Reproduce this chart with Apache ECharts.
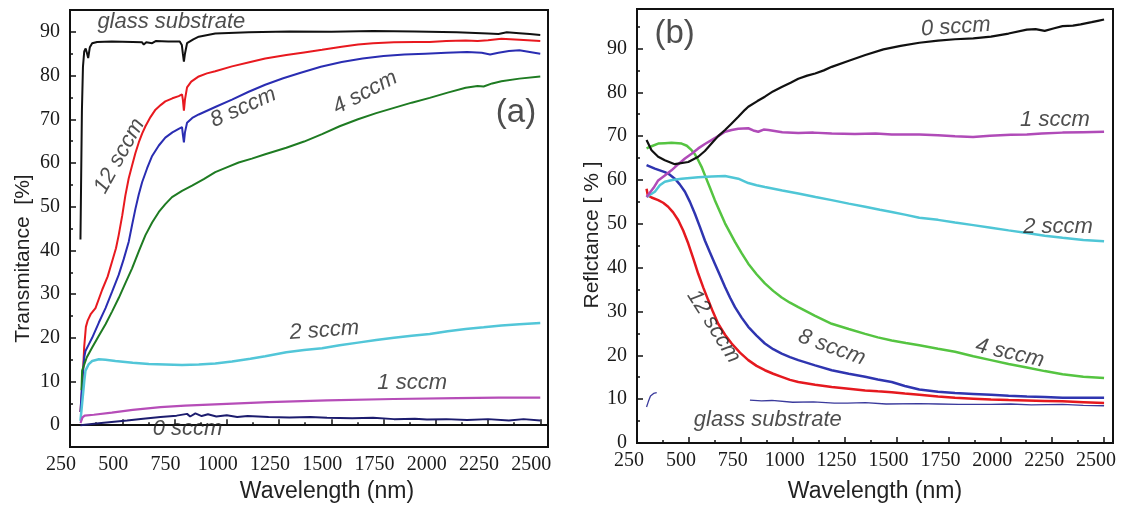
<!DOCTYPE html>
<html><head><meta charset="utf-8">
<script src="https://cdn.jsdelivr.net/npm/echarts@6/dist/echarts.min.js"></script>
<style>html,body{margin:0;padding:0;background:#fff}#c{width:1122px;height:508px}</style>
</head><body><div id="c"></div>
<script>
// ---------- Panel (a): Transmittance [%] vs wavelength (nm) ----------
const glassA = [[300,42.5],[303,55],[307,72],[312,82],[318,85.5],[325,86.2],[332,85],[337,84],[345,86.5],[356,87.4],[380,87.7],[450,87.8],[550,87.7],[595,87.6],[603,87.1],[615,87.6],[643,87.4],[660,87.9],[720,87.8],[775,87.8],[785,87],[790,85],[795,83.2],[800,85],[810,87.4],[840,88.3],[866,88.9],[945,89.6],[1105,89.9],[1300,90.1],[1500,90],[1700,90.2],[1900,90.1],[2100,89.9],[2250,89.6],[2300,89.5],[2340,89.9],[2400,89.7],[2450,89.5],[2500,89.3]];
const sccm12A = [[300,3],[310,10],[318,18],[326,22.5],[335,24],[350,25.5],[372,26.8],[404,31],[430,34],[451,37.4],[470,40.5],[483,43.5],[500,48],[515,52.6],[531,56.5],[547,59.4],[563,62.3],[579,64.7],[595,66.7],[611,68.4],[635,70.5],[659,72.2],[685,73.3],[706,74.1],[740,74.8],[770,75.3],[786,75.7],[790,74.5],[795,72],[800,74.5],[810,77.3],[830,78.6],[866,79.8],[905,80.5],[945,81],[1025,82.1],[1113,83.1],[1184,83.9],[1285,84.7],[1370,85.3],[1456,85.9],[1550,86.6],[1628,87.1],[1700,87.4],[1800,87.6],[1900,87.7],[1971,87.7],[2050,87.9],[2143,88],[2200,87.9],[2250,88.1],[2314,88.4],[2400,88.2],[2500,87.9]];
const sccm8A = [[300,3],[310,11],[318,15.5],[324,17],[340,18.5],[356,20],[388,23.5],[420,26.8],[451,30.5],[483,34.4],[507,38],[531,42],[547,45.8],[563,49.5],[579,52.8],[595,55.6],[619,58.8],[643,61.6],[675,64],[706,65.8],[740,67],[770,67.8],[786,68.2],[790,66.5],[795,64.7],[800,67],[810,69.2],[835,70.3],[866,71.1],[945,72.8],[1025,74.5],[1105,76.3],[1184,77.9],[1270,79.4],[1350,80.6],[1450,82],[1550,83.1],[1650,83.9],[1750,84.5],[1850,84.8],[1950,85],[2050,85.2],[2150,85.4],[2220,85.2],[2260,84.8],[2300,85.2],[2350,85.6],[2400,85.8],[2450,85.4],[2500,85]];
const sccm4A = [[305,8],[308,12.5],[330,15.5],[356,17.8],[388,20.5],[420,23.1],[451,26],[483,29.1],[515,32.5],[547,35.9],[579,39.8],[611,43.5],[643,46.4],[675,48.8],[706,50.6],[738,52.2],[786,53.6],[834,54.8],[890,56.3],[945,57.9],[1000,59],[1057,60.1],[1120,61],[1184,62],[1285,63.5],[1370,64.9],[1456,66.6],[1540,68.4],[1628,70],[1715,71.4],[1800,72.6],[1885,73.8],[1971,74.9],[2057,76.1],[2143,77.2],[2200,77.6],[2229,77.5],[2270,78.2],[2314,78.7],[2400,79.3],[2500,79.8]];
const sccm2A = [[300,1],[310,6],[318,10],[324,12.5],[340,14],[356,14.7],[388,15.1],[420,15],[467,14.7],[550,14.3],[627,14],[706,13.9],[786,13.8],[866,13.9],[945,14.1],[1025,14.6],[1113,15.2],[1184,15.8],[1285,16.7],[1370,17.2],[1456,17.6],[1540,18.3],[1628,18.9],[1715,19.5],[1800,20],[1885,20.5],[1971,20.9],[2057,21.5],[2143,22],[2229,22.4],[2314,22.8],[2400,23.1],[2500,23.4]];
const sccm1A = [[300,0.5],[310,1.8],[320,2.2],[364,2.4],[450,2.9],[550,3.5],[683,4.15],[800,4.5],[1000,4.9],[1200,5.3],[1480,5.7],[1798,6.0],[2100,6.2],[2300,6.3],[2500,6.3]];
const sccm0A = [[300,0],[400,0.5],[523,1.1],[600,1.5],[683,1.9],[760,2.2],[810,2.6],[825,2.0],[850,2.7],[880,2.1],[910,2.5],[950,2.0],[1000,2.3],[1050,1.9],[1100,2.1],[1200,1.9],[1300,1.8],[1400,1.9],[1480,1.7],[1600,1.6],[1700,1.7],[1800,1.4],[1900,1.5],[1958,1.3],[2050,1.4],[2150,1.2],[2250,1.4],[2350,1.1],[2420,1.4],[2500,1.1]];

// ---------- Panel (b): Reflectance [%] vs wavelength (nm) ----------
const sccm0B = [[296,69.1],[320,66.8],[352,65.3],[384,64.5],[432,63.6],[497,64.1],[545,65.3],[577,66.6],[609,68.3],[641,70],[674,71.4],[706,72.9],[738,74.4],[770,76],[786,76.7],[830,78],[866,79],[905,80.2],[947,81.2],[990,82.2],[1027,83.1],[1070,83.8],[1108,84.3],[1150,85],[1188,85.8],[1264,87.1],[1350,88.5],[1437,89.8],[1520,90.6],[1610,91.3],[1700,91.8],[1782,92.1],[1870,92.3],[1955,92.7],[2040,93.4],[2128,94.3],[2170,94.4],[2214,94],[2260,94.6],[2300,95.1],[2350,95.2],[2387,95.5],[2440,96],[2470,96.3],[2500,96.6]];
const sccm1B = [[296,56.1],[330,58.2],[352,59.9],[384,61],[416,62.2],[449,63.6],[481,64.9],[513,66],[545,67.2],[577,68.2],[609,69.1],[641,70],[674,71],[706,71.4],[738,71.7],[786,71.8],[810,71.3],[834,71],[860,71.5],[883,71.4],[950,70.9],[1027,70.7],[1100,70.8],[1188,70.6],[1300,70.5],[1400,70.6],[1477,70.4],[1610,70.4],[1700,70.2],[1782,70],[1869,69.8],[1950,70.1],[2050,70.3],[2128,70.4],[2200,70.6],[2300,70.8],[2400,70.9],[2500,71]];
const sccm2B = [[296,56.1],[336,57.3],[360,58.8],[384,59.6],[420,60],[465,60.3],[545,60.6],[610,60.8],[674,60.9],[738,60.3],[786,59.3],[826,58.8],[866,58.4],[950,57.6],[1027,56.9],[1110,56.1],[1188,55.4],[1270,54.6],[1349,53.9],[1420,53.2],[1477,52.7],[1540,52.1],[1610,51.4],[1700,50.9],[1782,50.3],[1870,49.7],[1955,49.1],[2040,48.5],[2128,47.9],[2214,47.3],[2300,46.8],[2400,46.3],[2500,46]];
const sccm4B = [[296,67.2],[320,67.7],[352,68.3],[384,68.4],[416,68.5],[465,68.3],[490,67.8],[513,66.8],[530,65.8],[545,64.5],[561,63],[577,61.1],[601,58.3],[625,55.4],[650,52.7],[674,50.1],[698,48],[722,45.9],[754,43.3],[786,40.9],[826,38.5],[866,36.4],[906,34.7],[947,33.2],[987,32],[1027,31],[1108,29],[1188,27.2],[1270,26],[1349,24.9],[1410,24.1],[1477,23.4],[1545,22.8],[1610,22.3],[1700,21.5],[1782,20.8],[1870,19.8],[1955,18.9],[2040,18],[2128,17.2],[2214,16.4],[2300,15.7],[2400,15.1],[2500,14.8]];
const sccm8B = [[296,63.4],[316,63],[336,62.6],[360,62.2],[384,61.8],[408,61.2],[432,60.3],[456,59],[481,57.3],[505,55],[529,52.3],[553,49.3],[577,46.2],[601,43.5],[625,40.9],[650,38.2],[674,35.6],[698,33.2],[722,31],[754,28.6],[786,26.5],[826,24.5],[866,22.7],[906,21.4],[947,20.4],[987,19.6],[1027,18.9],[1108,17.7],[1188,16.6],[1270,15.8],[1349,15.1],[1410,14.5],[1477,13.9],[1540,13],[1610,12.2],[1700,11.7],[1782,11.4],[1870,11.2],[1955,11],[2040,10.8],[2128,10.6],[2214,10.5],[2300,10.3],[2400,10.3],[2500,10.3]];
const sccm12B = [[296,58],[302,56.5],[320,56],[352,55.4],[376,54.8],[400,53.9],[424,52.6],[449,50.8],[473,48.4],[497,45.5],[521,42.1],[545,38.6],[569,35.5],[593,32.6],[617,29.8],[641,27.2],[674,24.7],[706,22.7],[746,20.6],[786,18.9],[826,17.6],[866,16.6],[906,15.8],[947,15.1],[987,14.4],[1027,13.9],[1108,13.3],[1188,12.8],[1270,12.4],[1349,12],[1410,11.8],[1477,11.6],[1540,11.3],[1610,11],[1700,10.6],[1782,10.3],[1870,10.1],[1955,9.9],[2040,9.8],[2128,9.7],[2214,9.6],[2300,9.5],[2400,9.3],[2500,9.1]];
const glassB = [[296,8.2],[305,9.5],[315,10.7],[330,11.3],[345,11.5],[350,null],[794,9.8],[850,9.6],[900,9.7],[1000,9.3],[1100,9.4],[1200,9.1],[1264,9.1],[1350,9.2],[1450,8.9],[1610,9],[1700,8.9],[1800,8.8],[1955,8.8],[2050,8.9],[2150,8.7],[2300,8.8],[2400,8.6],[2500,8.5]];

// tick label values
const yMajorA = [0,10,20,30,40,50,60,70,80,90];
const yMinorA = [5,15,25,35,45,55,65,75,85];

// text annotations: [text, wavelength, value, rotation(deg)]
const notesA = [['glass substrate',735,92.2,0],['12 sccm',487,61.6,61],['8 sccm',1079,72.7,24],['4 sccm',1662,76.1,28],['2 sccm',1467,21.7,4],['1 sccm',1887,9.6,0],['0 sccm',812,-0.9,0]];
const notesB = [['0 sccm',1786,94.9,4],['1 sccm',2263,73.6,0],['2 sccm',2278,49.4,0],['4 sccm',2046,20.5,-13],['8 sccm',1188,21.8,-20],['12 sccm',619,26.6,-58],['glass substrate',880,5.2,0]];
const tagA = ['(a)',2384,71.5];
const tagB = ['(b)',431,93.3];

const SERIF = 'Liberation Serif';
const SANS = 'Liberation Sans';
const tickLabel = {fontFamily:SERIF, fontSize:20, color:'#1a1a1a'};
const nameStyle = {fontFamily:SANS, fontSize:21, color:'#222'};

function xAxis(grid, max, namePad, gap, labelPad) {
  return {type:'value', gridIndex:grid, min:250, max:max, interval:250,
    name:'Wavelength (nm)', nameLocation:'middle', nameGap:gap,
    nameTextStyle:Object.assign({}, nameStyle, {fontSize:23, padding:namePad}),
    axisLine:{show:true, lineStyle:{color:'#111', width:2}},
    axisTick:{show:true, inside:true, length:6, lineStyle:{color:'#111', width:1.5}},
    minorTick:{show:true, splitNumber:2, length:3, lineStyle:{color:'#111', width:1.5}},
    axisLabel:Object.assign({margin:8, padding:labelPad, showMaxLabel:false, formatter:v=>String(v)}, tickLabel),
    splitLine:{show:false}};
}
function annot(list, xi, yi, italic, size) {
  return {type:'scatter', xAxisIndex:xi, yAxisIndex:yi, symbolSize:0, silent:true, z:10,
    data:list.map(n=>({name:n[0], value:[n[1],n[2]], label:{rotate:n[3]||0}})),
    label:{show:true, position:'inside', formatter:p=>p.name, align:'center', verticalAlign:'middle',
      fontFamily:SANS, fontStyle:italic?'italic':'normal', fontSize:size, color:'#222'}};
}
function line(data, color, xi, yi, w) {
  return {type:'line', xAxisIndex:xi, yAxisIndex:yi, data:data, showSymbol:false, symbol:'none',
    connectNulls:false, lineStyle:{color:color, width:w}, itemStyle:{color:color}, silent:true, z:3};
}

const option = {
  backgroundColor:'#fff',
  animation:false,
  textStyle:{fontFamily:SANS},
  grid:[
    {left:70, right:574, top:10, bottom:58, show:true, borderColor:'#111', borderWidth:2},
    {left:637, right:9, top:9, bottom:65, show:true, borderColor:'#111', borderWidth:2}
  ],
  xAxis:[xAxis(0, 2537, [0,0,0,36], 29, [0,18,0,0]), xAxis(1, 2543, [0,0,0,0], 37, [0,16,0,0])],
  yAxis:[
    {type:'value', gridIndex:0, min:-5, max:95,
      name:'Transmitance  [%]', nameLocation:'middle', nameGap:36,
      nameTextStyle:Object.assign({padding:[0,60,0,0]}, nameStyle),
      axisLine:{show:true, lineStyle:{color:'#111', width:2}},
      axisTick:{show:true, inside:true, length:6, customValues:yMajorA, lineStyle:{color:'#111', width:1.5}},
      axisLabel:Object.assign({margin:10, customValues:yMajorA, formatter:v=>String(v)}, tickLabel),
      splitLine:{show:false}},
    {type:'value', gridIndex:0, min:-5, max:95, position:'left',
      axisLine:{show:false}, axisLabel:{show:false}, splitLine:{show:false},
      axisTick:{show:true, inside:true, length:3, customValues:yMinorA, lineStyle:{color:'#111', width:1.5}}},
    {type:'value', gridIndex:1, min:0, max:99, interval:10,
      name:'Reflctance [ % ]', nameLocation:'middle', nameGap:32,
      nameTextStyle:Object.assign({padding:[0,18,0,0]}, nameStyle),
      axisLine:{show:true, lineStyle:{color:'#111', width:2}},
      axisTick:{show:true, inside:true, length:6, lineStyle:{color:'#111', width:1.5}},
      minorTick:{show:true, splitNumber:2, length:3, lineStyle:{color:'#111', width:1.5}},
      axisLabel:Object.assign({margin:10, showMaxLabel:false, formatter:v=>String(v)}, tickLabel),
      splitLine:{show:false}}
  ],
  series:[
    line(glassA, '#111111', 0, 0, 2),
    line(sccm12A, '#e8191f', 0, 0, 2),
    line(sccm8A, '#2a2db2', 0, 0, 2),
    line(sccm4A, '#1e7b22', 0, 0, 2),
    line(sccm2A, '#52c6d8', 0, 0, 2.5),
    line(sccm1A, '#b64db8', 0, 0, 2.2),
    line(sccm0A, '#1c1c6e', 0, 0, 2),
    line(glassB, '#3a3a9c', 1, 2, 1.3),
    line(sccm12B, '#e5191f', 1, 2, 2.5),
    line(sccm8B, '#2f35b0', 1, 2, 2.5),
    line(sccm4B, '#55c441', 1, 2, 2.5),
    line(sccm2B, '#4fc6d6', 1, 2, 2.5),
    line(sccm1B, '#b04bb8', 1, 2, 2.5),
    line(sccm0B, '#111111', 1, 2, 2.2),
    annot(notesA, 0, 0, true, 22),
    annot(notesB, 1, 2, true, 22),
    annot([tagA], 0, 0, false, 33),
    annot([tagB], 1, 2, false, 33)
  ]
};
const chart = echarts.init(document.getElementById('c'), null, {renderer:'canvas'});
chart.setOption(option);
</script></body></html>
